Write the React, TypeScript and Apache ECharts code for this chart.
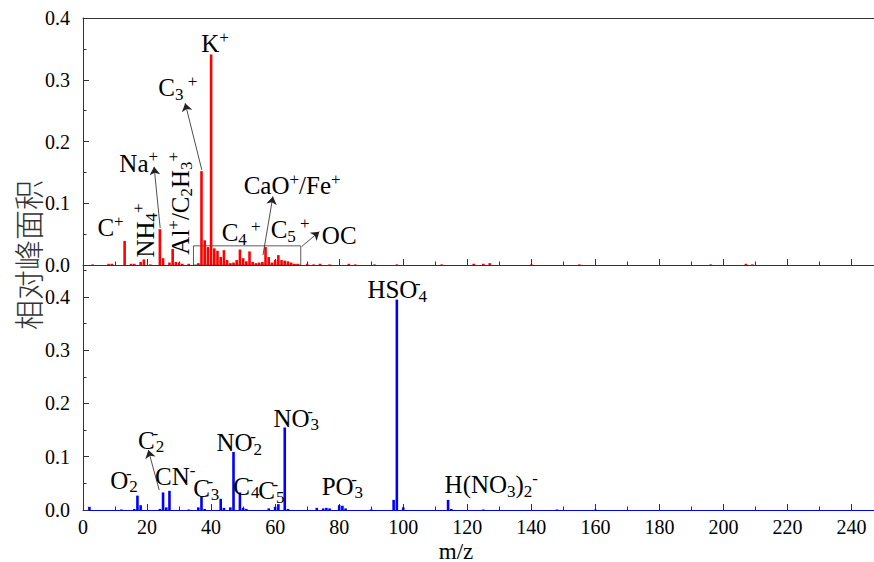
import React, { useEffect, useRef } from "react";
import * as echarts from "echarts";

// ---- data (x positions are the m/z values as plotted in the figure) ----
const posMz = [3, 8, 9, 13, 15, 16, 18, 19, 21, 24, 25, 27, 28, 29, 30, 31, 33, 36, 37, 38, 39, 40, 41, 42, 43, 44, 45, 46, 47, 48, 49, 50, 51, 52, 53, 54, 55, 56, 57, 58, 59, 60, 61, 62, 63, 64, 65, 66, 67, 70, 72, 74, 77, 83, 85, 91, 98, 112, 122, 125, 127, 140, 155, 196, 207, 209];
const posVal = [0.001, 0.002, 0.002, 0.039, 0.002, 0.002, 0.005, 0.009, 0.001, 0.058, 0.011, 0.004, 0.026, 0.005, 0.004, 0.002, 0.002, 0.003, 0.152, 0.040, 0.029, 0.341, 0.027, 0.023, 0.013, 0.024, 0.008, 0.003, 0.004, 0.008, 0.025, 0.011, 0.006, 0.022, 0.005, 0.003, 0.004, 0.005, 0.029, 0.013, 0.004, 0.008, 0.016, 0.008, 0.007, 0.006, 0.004, 0.002, 0.002, 0.002, 0.001, 0.002, 0.001, 0.002, 0.001, 0.001, 0.001, 0.001, 0.002, 0.002, 0.003, 0.001, 0.001, 0.001, 0.002, 0.001];

const negMz = [2, 12, 16, 17, 18, 24, 25, 26, 27, 33, 36, 37, 38, 43, 44, 46, 47, 49, 50, 51, 58, 60, 61, 63, 64, 73, 75, 76, 77, 80, 81, 82, 90, 97, 98, 100, 114, 115, 125, 148, 160];
const negVal = [0.006, 0.001, 0.002, 0.027, 0.009, 0.002, 0.033, 0.005, 0.036, 0.001, 0.005, 0.026, 0.002, 0.021, 0.004, 0.005, 0.109, 0.033, 0.004, 0.002, 0.003, 0.006, 0.011, 0.155, 0.002, 0.004, 0.003, 0.004, 0.003, 0.009, 0.008, 0.003, 0.001, 0.019, 0.395, 0.005, 0.019, 0.002, 0.001, 0.001, 0.001];

const xTicks = { min: 0, max: 247, interval: 20 };
const yTopTicks = { min: 0, max: 0.4, interval: 0.1 };
const yBottomTicks = { min: 0, max: 0.46, interval: 0.1 };

// annotation labels: [rich text, m/z, value, rotation]
const posLabels: [string, number, number, number][] = [
  ["{m|K}{sup|+}", 41.2, 0.358, 0],
  ["{m|C}{sub|3}{sup| +}", 29.6, 0.287, 0],
  ["{m|Na}{sup|+}", 17.4, 0.165, 0],
  ["{m|C}{sup|+}", 8.6, 0.060, 0],
  ["{m|NH}{sub|4}{sup|+}", 19.4, 0.056, 90],
  ["{m|Al}{sup|+}{m|/C}{sub|2}{m|H}{sub|3}{sup|+}", 30.3, 0.100, 90],
  ["{m|CaO}{sup|+}{m|/Fe}{sup|+}", 65.3, 0.128, 0],
  ["{m|C}{sub|4}{sup| +}", 49.4, 0.052, 0],
  ["{m|C}{sub|5}{sup| +}", 64.7, 0.057, 0],
  ["{m|OC}", 80, 0.047, 0],
];
const negLabels: [string, number, number, number][] = [
  ["{m|HSO}{st|-}{sub|4}", 98.1, 0.414, 0],
  ["{m|NO}{st|-}{sub|3}", 66.6, 0.172, 0],
  ["{m|NO}{st|-}{sub|2}", 48.8, 0.126, 0],
  ["{m|C}{st|-}{sub|2}", 21.3, 0.131, 0],
  ["{m|O}{st|-}{sub|2}", 12.8, 0.056, 0],
  ["{m|CN}{sup|-}", 28.8, 0.062, 0],
  ["{m|C}{st|-}{sub|3}", 38.5, 0.041, 0],
  ["{m|C}{st|-}{sub|4}", 51, 0.045, 0],
  ["{m|C}{st|-}{sub|5}", 58.8, 0.036, 0],
  ["{m|PO}{st|-}{sub|3}", 81, 0.045, 0],
  ["{m|H(NO}{sub|3}{m|)}{sub|2}{sup|-}", 127.5, 0.047, 0],
];
// arrows: [from m/z, from value, to m/z, to value]
const posArrows: [number, number, number, number][] = [
  [37.1, 0.154, 31.9, 0.262],
  [24.1, 0.060, 22.2, 0.159],
  [56.2, 0.016, 59.3, 0.111],
  [68.3, 0.030, 73.8, 0.054],
];
const negArrows: [number, number, number, number][] = [[23.8, 0.0375, 20.4, 0.1125]];
const boxArea = { x0: 34.5, y0: 0, x1: 68, y1: 0.031 };

const SERIF = "'Liberation Serif', 'Times New Roman', 'DejaVu Serif', serif";
const AX = "#333";

const rich = {
  m: { fontSize: 25, fontFamily: SERIF, color: "#000", lineHeight: 30 },
  sup: { fontSize: 17, fontFamily: SERIF, color: "#000", lineHeight: 14, verticalAlign: "top" },
  st: { fontSize: 17, fontFamily: SERIF, color: "#000", lineHeight: 14, verticalAlign: "top", width: 1 },
  sub: { fontSize: 17, fontFamily: SERIF, color: "#000", lineHeight: 16, verticalAlign: "bottom" },
};

function xAxisCfg(gridIndex: number, showLabel: boolean, lineColor: string) {
  return {
    type: "value",
    gridIndex,
    position: "bottom",
    min: xTicks.min,
    max: xTicks.max,
    interval: xTicks.interval,
    axisLine: { show: true, onZero: false, lineStyle: { color: lineColor, width: 1 } },
    axisTick: { show: true, inside: true, length: 6, lineStyle: { color: AX } },
    minorTick: { show: true, splitNumber: 2, length: 3.5, lineStyle: { color: AX } },
    splitLine: { show: false },
    axisLabel: {
      show: showLabel,
      showMaxLabel: false,
      margin: 7,
      color: "#000",
      fontFamily: SERIF,
      fontSize: 20,
    },
  };
}

function yAxisCfg(gridIndex: number, t: { min: number; max: number; interval: number }) {
  return {
    type: "value",
    gridIndex,
    min: t.min,
    max: t.max,
    interval: t.interval,
    axisLine: { show: true, lineStyle: { color: AX, width: 1 } },
    axisTick: { show: true, inside: true, length: 6, lineStyle: { color: AX } },
    minorTick: { show: true, splitNumber: 2, length: 3.5, lineStyle: { color: AX } },
    splitLine: { show: false },
    axisLabel: {
      showMaxLabel: gridIndex === 0,
      margin: 13,
      color: "#000",
      fontFamily: SERIF,
      fontSize: 20,
      formatter: (v: number) => v.toFixed(1),
    },
  };
}

function markPoints(labels: [string, number, number, number][]) {
  return {
    silent: true,
    symbol: "circle",
    symbolSize: 0,
    itemStyle: { color: "transparent" },
    label: { show: true, position: "inside", color: "#000", rich },
    data: labels.map(([t, m, v, r]) => ({
      coord: [m, v],
      label: { formatter: () => t, rotate: r },
    })),
  };
}

function markLines(arrows: [number, number, number, number][]) {
  return {
    silent: true,
    symbol: ["none", "arrow"],
    symbolSize: 8,
    lineStyle: { color: "#222", width: 0.8, type: "solid" },
    label: { show: false },
    data: arrows.map(([a, b, c, d]) => [{ coord: [a, b] }, { coord: [c, d] }]),
  };
}

export default function App() {
  const ref = useRef<HTMLDivElement>(null);
  useEffect(() => {
    document.body.style.margin = "0";
    const chart = echarts.init(ref.current!, null, { renderer: "svg" });
    const option = {
      animation: false,
      backgroundColor: "#fff",
      grid: [
        { left: 83, right: 0, top: 18, height: 247 },
        { left: 83, right: 0, top: 265, bottom: 52 },
      ],
      xAxis: [
        xAxisCfg(0, false, AX),
        xAxisCfg(1, true, "#0000ff"),
        {
          type: "value",
          gridIndex: 0,
          position: "top",
          min: xTicks.min,
          max: xTicks.max,
          axisLine: { show: true, onZero: false, lineStyle: { color: AX } },
          axisTick: { show: false },
          axisLabel: { show: false },
          splitLine: { show: false },
        },
      ],
      yAxis: [yAxisCfg(0, yTopTicks), yAxisCfg(1, yBottomTicks)],
      series: [
        {
          type: "bar",
          xAxisIndex: 0,
          yAxisIndex: 0,
          barWidth: 2.6,
          itemStyle: { color: "#ff0000" },
          data: posMz.map((m, i) => [m, posVal[i]]),
          markArea: {
            silent: true,
            itemStyle: { color: "transparent", borderColor: "#333", borderWidth: 0.8 },
            data: [[{ coord: [boxArea.x0, boxArea.y0] }, { coord: [boxArea.x1, boxArea.y1] }]],
          },
          markLine: markLines(posArrows),
          markPoint: markPoints(posLabels),
        },
        {
          type: "bar",
          xAxisIndex: 1,
          yAxisIndex: 1,
          barWidth: 2.6,
          itemStyle: { color: "#0000ff" },
          data: negMz.map((m, i) => [m, negVal[i]]),
          markLine: markLines(negArrows),
          markPoint: markPoints(negLabels),
        },
      ],
      graphic: [
        {
          type: "text",
          x: 27,
          y: 255,
          rotation: Math.PI / 2,
          style: {
            text: "相对峰面积",
            font: '300 30px "Noto Sans CJK SC"',
            fill: "#333",
            align: "center",
            verticalAlign: "middle",
          },
        },
        {
          type: "text",
          x: 456,
          y: 551,
          style: {
            text: "m/z",
            font: "23px " + SERIF,
            fill: "#000",
            align: "center",
            verticalAlign: "middle",
          },
        },
      ],
    };
    chart.setOption(option as any);
    return () => chart.dispose();
  }, []);
  return (
    <div
      ref={ref}
      style={{ position: "absolute", left: 0, top: 0, width: 874, height: 562 }}
    />
  );
}
